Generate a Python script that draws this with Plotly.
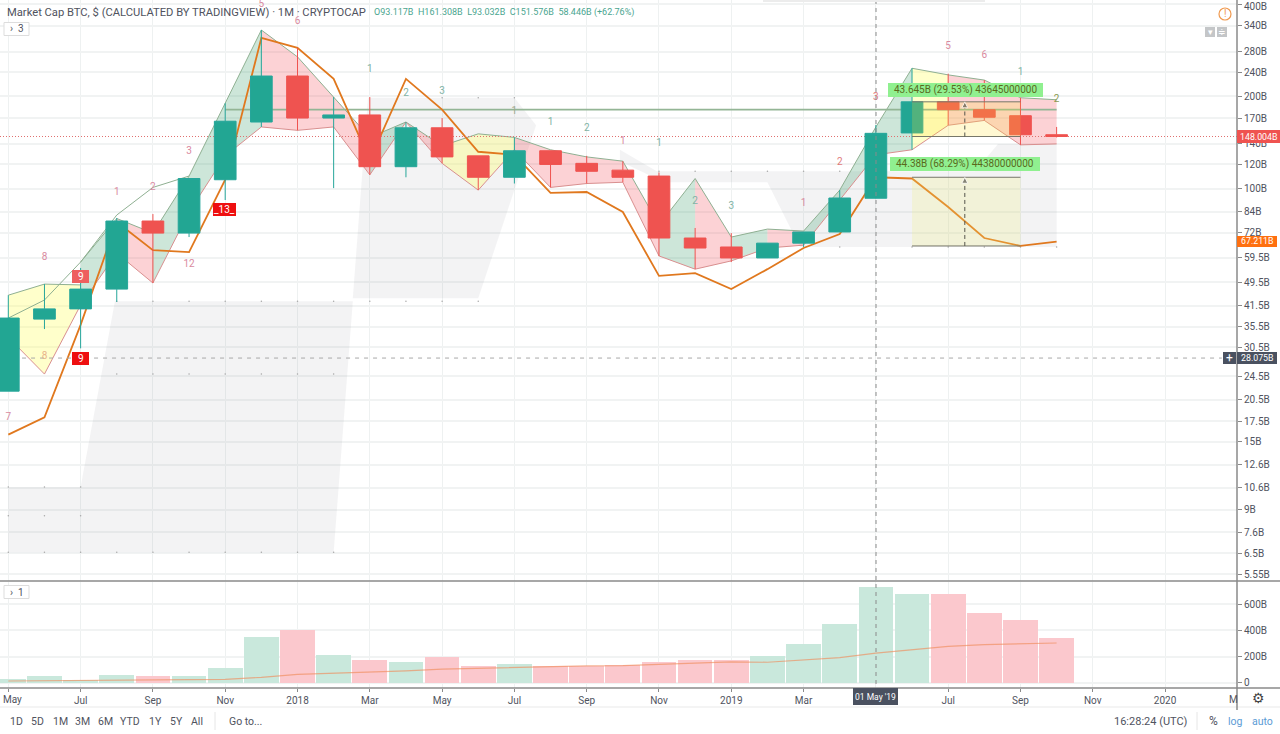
import plotly.graph_objects as go

W, H = 1280, 734
PLOT_R = 1237

month_idx = list(range(30))
open_b = [21.9, 37.6, 40.6, 47.1, 78.5, 71.7, 107, 165, 233, 170, 174, 118, 158, 128, 109, 133, 121, 115, 110, 69.1, 64.6, 59.5, 66.5, 72.3, 93.117, 152, 192, 181, 173, 150]
high_b = [45.0, 48.9, 55.2, 80.3, 82.7, 108, 190, 329, 288, 199, 199, 165, 170, 128, 147, 133, 128, 123, 113, 74.5, 71.7, 66.5, 72.3, 99, 161.308, 247, 237, 226, 198, 159]
low_b = [21.9, 34.9, 30.2, 42.8, 49.3, 69.6, 91.9, 159, 155, 100.5, 111, 109, 121, 99, 104, 101, 104, 105, 60.4, 54.7, 57.7, 59.5, 64.6, 72.3, 93.032, 134, 161, 167, 139, 147]
close_b = [37.9, 40.6, 47.1, 78.5, 71.7, 108, 166, 233, 170, 174, 118, 158, 127, 109, 133, 120, 114, 109, 69.1, 64.1, 59.5, 66.5, 72.3, 93.3, 151.576, 192, 181, 171, 150, 148.004]

orange_line = [15.8, 18.0, 36.0, 77.9, 63.1, 62.2, 107, 310, 288, 228, 124, 228, 181, 132, 129, 96.9, 97.6, 84, 52, 53.1, 47.1, 54.7, 64.1, 71.2, 109, 108, 87.2, 69.1, 65.1, 67.211]

band_top = [37.9, 43.4, 57.7, 80, 71.7, 110, 190, 329, 269, 199, 147, 165, 138, 151, 147, 134, 127, 123, 76.2, 108, 69.6, 73.9, 72.8, 99, 159, 247, 235, 226, 198, 195]
band_bottom = [32.8, 24.9, 41.8, 61.7, 49.3, 84, 128, 159, 155, 159, 111, 165, 121, 99, 134, 101, 104, 105, 60.4, 54.7, 58.2, 64.1, 65.5, 91.9, 129, 134, 161, 167, 139, 140]
yellow_top = [45.0, 48.9, 48.6]
trail_idx = [2, 3, 4, 5]
trail_high = [57.7, 82.1, 101, 110]

band_runs = [(0, 2, "y"), (2, 3, "g"), (3, 4, "r"), (4, 7, "g"), (7, 10, "r"), (10, 11, "g"), (11, 12, "r"),
             (12, 14, "y"), (14, 18, "r"), (18, 19, "g"), (19, 20, "r"), (20, 21, "g"), (21, 22, "r"),
             (22, 25, "g"), (25, 26, "y"), (26, 29, "r")]
band_colors = {"g": "rgba(60,160,110,0.26)", "r": "rgba(244,67,80,0.24)", "y": "rgba(255,255,110,0.36)"}

volume_b = [25, 51, 20, 59, 49, 49, 115, 349, 400, 208, 172, 159, 200, 126, 141, 128, 128, 133, 159, 172, 172, 203, 297, 451, 733, 677, 677, 536, 482, 338]
volume_ma = [13, 14, 15, 17, 20, 23, 26, 41, 64, 72, 80, 90, 103, 110, 115, 123, 128, 131, 141, 154, 159, 156, 174, 192, 226, 251, 277, 290, 297, 303]

y_ticks = [400, 340, 280, 240, 200, 170, 140, 120, 100, 84, 72, 59.5, 49.5, 41.5, 35.5, 30.5, 24.5, 20.5, 17.5, 15, 12.6, 10.6, 9, 7.6, 6.5, 5.55]
y_labels = [f"{v}B" for v in y_ticks]
x_ticks = [0, 2, 4, 6, 8, 10, 12, 14, 16, 18, 20, 22, 24, 26, 28, 30, 32, 34]
x_labels = ["", "Jul", "Sep", "Nov", "2018", "Mar", "May", "Jul", "Sep", "Nov", "2019", "Mar", "", "Jul", "Sep", "Nov", "2020", ""]
vol_ticks = [0, 200, 400, 600]
vol_labels = ["0", "200B", "400B", "600B"]

seq_idx = [0, 1, 1, 3, 4, 5, 5, 7, 8, 10, 11, 12, 14, 15, 16, 17, 18, 19, 20, 22, 23, 24, 26, 27, 28, 29]
seq_val = [18.0, 59.9, 28.5, 96.9, 101, 132, 56.8, 398, 351, 244, 204, 208, 179, 164, 157, 143, 140, 91.2, 87.8, 89.8, 122, 199, 290, 271, 240, 195]
seq_text = ["7", "8", "8", "1", "2", "3", "12", "5", "6", "1", "2", "3", "1", "1", "2", "1", "1", "2", "3", "1", "2", "3", "5", "6", "1", "2"]
PK, TL, OR, OL = "#d98aa0", "#7fb3a5", "#e9b48a", "#8a9a50"
seq_col = [PK, PK, OR, PK, PK, PK, PK, PK, PK, TL, TL, TL, "#a0a890", TL, TL, PK, TL, TL, TL, PK, "#e07a7a", "#e07a7a", PK, PK, TL, OL]

ghost_1_x = [0, 0, 2, 2.95, 9.53, 9]
ghost_1_y = [6.54, 10.66, 10.66, 43, 43, 6.54]
ghost_2_x = [9.53, 9.95, 14.0, 14.6, 13]
ghost_2_y = [44, 198, 198, 161, 44]
ghost_3_x = [16.92, 17.94, 26.74, 27.38, 29, 29, 21.9, 21.0, 18.14, 16.92]
ghost_3_y = [134, 114, 114, 140, 140, 64.6, 64.6, 105, 105, 123]
dot_rows = [(list(range(0, 10)), 6.54), (list(range(0, 3)), 10.66), (list(range(3, 14)), 43), (list(range(3, 10)), 24.9),
            (list(range(0, 3)), 8.6), (list(range(12, 15)), 198), (list(range(18, 24)), 114), (list(range(23, 30)), 64.6)]

level_green = 181
last_price = 148.004
cross_price = 28.075
cross_idx = 24
measure_x = [25, 28]
measure_top = (192, 148)
measure_low = (109, 65.1)
measure_arrow_x = 26.46

LOG_RANGE = [0.7218, 2.6151]
OV = dict(type="log", range=LOG_RANGE, overlaying="y", visible=False, anchor="x", side="right")
fig = go.Figure()

# ghost watermark
for gx, gy in ((ghost_1_x, ghost_1_y), (ghost_2_x, ghost_2_y), (ghost_3_x, ghost_3_y)):
    fig.add_trace(go.Scatter(x=gx, y=gy, fill="toself", mode="none", fillcolor="rgba(120,125,130,0.09)", yaxis="y", hoverinfo="skip"))
for rx, rv in dot_rows:
    fig.add_trace(go.Scatter(x=rx, y=[rv] * len(rx), mode="markers", marker=dict(size=1.5, color="#a8a8a8"), yaxis="y", hoverinfo="skip"))

# bands
for a, b, c in band_runs:
    top = yellow_top if a == 0 else band_top[a:b + 1]
    xs = month_idx[a:b + 1]
    fig.add_trace(go.Scatter(x=xs + xs[::-1], y=top + band_bottom[a:b + 1][::-1], fill="toself", mode="none",
                             fillcolor=band_colors[c], yaxis="y", hoverinfo="skip"))
fig.add_trace(go.Scatter(x=month_idx[:3], y=yellow_top, mode="lines", line=dict(color="#8fb092", width=1), yaxis="y"))
fig.add_trace(go.Scatter(x=trail_idx, y=trail_high, mode="lines", line=dict(color="#8fb092", width=1), yaxis="y"))
fig.add_trace(go.Scatter(x=month_idx, y=band_top, mode="lines", line=dict(color="#8fb092", width=1), yaxis="y"))
fig.add_trace(go.Scatter(x=month_idx, y=band_bottom, mode="lines", line=dict(color="#d98f8f", width=1), yaxis="y"))

# levels and orange line
fig.add_trace(go.Scatter(x=[6, 29], y=[level_green, level_green], mode="lines", line=dict(color="#93b595", width=1.8), yaxis="y"))
fig.add_trace(go.Scatter(x=month_idx, y=orange_line, mode="lines", line=dict(color="#e0781e", width=1.8), yaxis="y"))
fig.add_trace(go.Scatter(x=[-0.23, 33.99], y=[last_price, last_price], mode="lines", line=dict(color="#e0706f", width=1, dash="1px,2px"), yaxis="y"))

# candles on an overlay axis (above the bands)
fig.add_trace(go.Candlestick(x=month_idx, open=open_b, high=high_b, low=low_b, close=close_b, yaxis="y3",
                             whiskerwidth=0,
                             increasing=dict(line=dict(color="#26a69a", width=1), fillcolor="#22a693"),
                             decreasing=dict(line=dict(color="#ef5350", width=1), fillcolor="#ef5350")))

# measure tools and labels on top
fig.add_trace(go.Scatter(x=[measure_x[0], measure_x[1], measure_x[1], measure_x[0]],
                         y=[measure_top[0], measure_top[0], measure_top[1], measure_top[1]], fill="toself", mode="none",
                         fillcolor="rgba(255,225,50,0.22)", yaxis="y4", hoverinfo="skip"))
fig.add_trace(go.Scatter(x=[measure_x[0], measure_x[1], measure_x[1], measure_x[0]],
                         y=[measure_low[0], measure_low[0], measure_low[1], measure_low[1]], fill="toself", mode="none",
                         fillcolor="rgba(240,240,120,0.22)", yaxis="y4", hoverinfo="skip"))
for v in measure_top + measure_low:
    fig.add_trace(go.Scatter(x=measure_x, y=[v, v], mode="lines", line=dict(color="#77776a", width=1), yaxis="y4"))
for lo, hi in (measure_top[::-1], measure_low[::-1]):
    fig.add_trace(go.Scatter(x=[measure_arrow_x, measure_arrow_x], y=[lo, hi], mode="lines+markers",
                             line=dict(color="#55554c", width=1, dash="4px,3px"),
                             marker=dict(symbol=["circle", "arrow-up"], size=[0, 6], color="#55554c"), yaxis="y4"))
fig.add_trace(go.Scatter(x=[0.38, 33.57], y=[cross_price, cross_price], mode="lines", line=dict(color="#a8a8a8", width=1, dash="4px,5px"), yaxis="y4"))
fig.add_trace(go.Scatter(x=seq_idx, y=seq_val, mode="text", text=seq_text, textfont=dict(size=10, color=seq_col, family="Roboto"),
                         textposition="middle center", yaxis="y4"))

# volume pane
vol_cols = ["g", "g", "g", "g", "r", "g", "g", "g", "r", "g", "r", "g", "r", "r", "g", "r", "r", "r", "r", "r", "r", "g", "g", "g", "g", "g", "r", "r", "r", "r"]
fig.add_trace(go.Bar(x=month_idx, y=volume_b, width=0.96, marker=dict(color=["#c9e8dc" if c == "g" else "#fbc8cd" for c in vol_cols], line=dict(width=0)), yaxis="y2"))
fig.add_trace(go.Scatter(x=month_idx, y=volume_ma, mode="lines", line=dict(color="rgba(240,140,90,0.65)", width=1.2), yaxis="y2"))

def px(x): return x / W
def py(y): return 1 - y / H

ann, shp = [], []
def text(x, y, s, size=10.5, color="#50535e", anchor="left", family="Roboto"):
    ann.append(dict(x=px(x), y=py(y), xref="paper", yref="paper", text=s, showarrow=False, xanchor=anchor, yanchor="middle",
                    font=dict(size=size, color=color, family=family)))
def tag(x0, y0, x1, y1, s, bg, color="#ffffff", size=10.5):
    shp.append(dict(type="rect", xref="paper", yref="paper", x0=px(x0), x1=px(x1), y0=py(y0), y1=py(y1), fillcolor=bg, line=dict(width=0)))
    text((x0 + x1) / 2, (y0 + y1) / 2, s, size=size, color=color, anchor="center")
def hline(y, color, x0=0, x1=W, w=1):
    shp.append(dict(type="line", xref="paper", yref="paper", x0=px(x0), x1=px(x1), y0=py(y), y1=py(y), line=dict(color=color, width=w)))
def vline(x, y0, y1, color, w=1, dash="solid"):
    shp.append(dict(type="line", xref="paper", yref="paper", x0=px(x), x1=px(x), y0=py(y0), y1=py(y1), line=dict(color=color, width=w, dash=dash)))

hline(581, "#8a8a8a", w=1.5)
hline(688, "#8a8a8a", w=1.5)
hline(707, "#f1f1f1", w=1.5)
vline(PLOT_R, 0, 710, "#8a8a8a", w=1.5)
vline(876, 0, 688, "#8a8a8a", dash="4px,4px")
vline(215, 712, 730, "#e6e6e6")
vline(1197, 712, 730, "#e6e6e6")
hline(1, "#ececec", 763, 985, w=2)

text(5, 12, "Market Cap BTC, $ (CALCULATED BY TRADINGVIEW) · 1M · CRYPTOCAP", size=11.2, color="#50535e")
text(372, 13, "O93.117B  H161.308B  L93.032B  C151.576B  58.446B (+62.76%)", size=9, color="#4aa58f")
text(1, 699, "May", size=10, anchor="left")
text(1233, 699, "M", size=10, anchor="center")
text(1242, 6, "400B", size=10, anchor="left")

for yc, s in ((29, "›  3"), (592, "›  1")):
    shp.append(dict(type="rect", xref="paper", yref="paper", x0=px(4), x1=px(29), y0=py(yc - 6.5), y1=py(yc + 6.5), fillcolor="#ffffff", line=dict(color="#dddddd", width=1)))
    text(16.5, yc, s, size=10, anchor="center")

tag(72, 270, 89, 283, "9", "#ee5f5f", size=10)
tag(72, 352, 89, 365, "9", "#ee0f10", size=10)
tag(213, 203, 236, 216, "_13_", "#ee0f10", size=10)

tag(888, 83, 1043, 97, "43.645B (29.53%) 43645000000", "#90f090", color="#5a6a1c", size=10)
tag(890, 157, 1040, 171, "44.38B (68.29%) 44380000000", "#90f090", color="#5a6a1c", size=10)

tag(PLOT_R, 130, 1280, 143, "148.004B", "#ef5350", size=8.8)
tag(PLOT_R, 236, 1277, 247, "67.211B", "#ff7010", size=8.8)
tag(PLOT_R, 352, 1277, 364, "28.075B", "#4a5160", size=8.8)
tag(1223, 352, 1236, 364, "+", "#4a5160", size=12)
tag(853, 688, 898, 705, "01 May '19", "#4a5160", size=8.5)

shp.append(dict(type="circle", xref="paper", yref="paper", x0=px(1219), x1=px(1231), y0=py(20), y1=py(8), line=dict(color="#f09a50", width=1.2)))
text(1225, 14, "!", size=10, color="#f09a50", anchor="center")
tag(1205, 27, 1215, 37, "▾", "#c4c6c8", size=9)
tag(1217, 27, 1227, 37, "≑", "#c4c6c8", size=9)

for cx, s in ((16, "1D"), (37, "5D"), (60, "1M"), (82, "3M"), (105, "6M"), (130, "YTD"), (155, "1Y"), (176, "5Y"), (197, "All"), (245, "Go to...")):
    text(cx, 721, s, size=10.5, anchor="center")
text(1150, 721, "16:28:24 (UTC)", size=11, anchor="center")
text(1213, 721, "%", size=12, anchor="center")
text(1235, 721, "log", size=10.5, color="#5b9bd5", anchor="center")
text(1262, 721, "auto", size=10.5, color="#5b9bd5", anchor="center")
text(1258, 698, "⚙", size=14, color="#444444", anchor="center", family="DejaVu Sans")

TF = dict(size=10, color="#50535e", family="Roboto")
fig.update_layout(
    width=W, height=H, margin=dict(l=0, r=0, t=0, b=0), paper_bgcolor="white", plot_bgcolor="white", showlegend=False,
    boxgap=0.25, boxgroupgap=0.2, bargap=0, hovermode=False,
    xaxis=dict(domain=[0, PLOT_R / W], range=[-0.23, 33.99], anchor="y2", tickvals=x_ticks, ticktext=x_labels, tickfont=TF,
               showgrid=True, gridcolor="#eef1f1", gridwidth=1, ticks="outside", ticklen=3, tickcolor="#8a8a8a", zeroline=False,
               rangeslider=dict(visible=False), showline=False),
    yaxis=dict(domain=[1 - 581 / H, 1], type="log", range=LOG_RANGE, side="right", anchor="x", tickvals=y_ticks, ticktext=y_labels, tickfont=TF,
               showgrid=True, gridcolor="#f1f3f3", gridwidth=1.5, ticks="outside", ticklen=4, tickcolor="#8a8a8a", zeroline=False),
    yaxis2=dict(domain=[1 - 688 / H, 1 - 582 / H], range=[-40.5, 769], side="right", anchor="x", tickvals=vol_ticks, ticktext=vol_labels, tickfont=TF,
                showgrid=True, gridcolor="#f1f3f3", gridwidth=1.5, ticks="outside", ticklen=4, tickcolor="#8a8a8a", zeroline=False),
    yaxis3=OV, yaxis4=OV,
    annotations=ann, shapes=shp,
)
fig.write_html("out.html", config=dict(displayModeBar=False),
               post_script="document.body.style.margin='0';document.body.style.overflow='hidden';")
